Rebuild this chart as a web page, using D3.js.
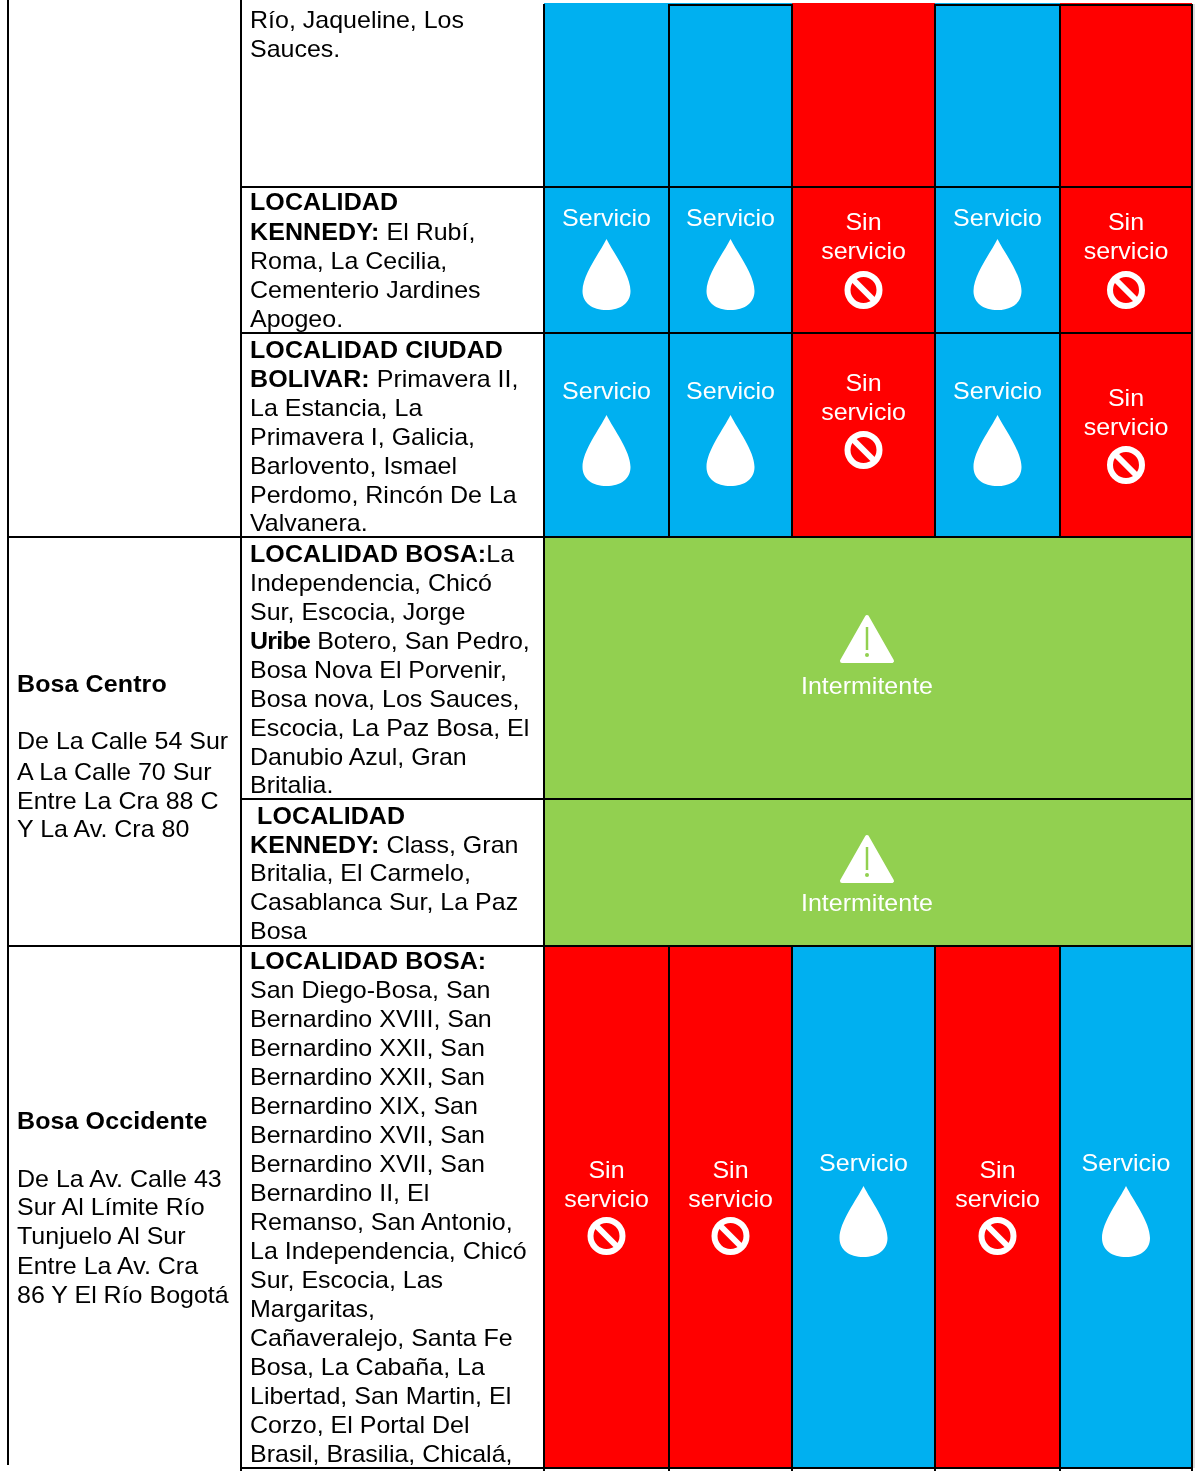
<!DOCTYPE html>
<html>
<head>
<meta charset="utf-8">
<script src="https://cdn.jsdelivr.net/npm/d3@7"></script>
<style>
  html, body { margin: 0; padding: 0; background: #fff; }
  svg { display: block; filter: blur(0.5px); }
  text { font-family: "Liberation Sans", Arial, sans-serif; white-space: pre; }
  tspan.bold, text.bold { font-weight: bold; letter-spacing: 0.1px; }
  tspan.tight { letter-spacing: -0.7px; }
</style>
</head>
<body>
<div id="container"></div>
<script>
// status codes per day: S = servicio, N = sin servicio, I = intermitente (whole row)
const rowStatus = [
  ["S", "S", "N", "S", "N"],
  ["S", "S", "N", "S", "N"],
  ["S", "S", "N", "S", "N"],
  ["I"],
  ["I"],
  ["N", "N", "S", "N", "S"],
];

// "**" marks the bold part of a line
const rowText = [
  ["Río, Jaqueline, Los", "Sauces."],
  ["**LOCALIDAD", "**KENNEDY:** El Rubí,", "Roma, La Cecilia,", "Cementerio Jardines", "Apogeo."],
  ["**LOCALIDAD CIUDAD", "**BOLIVAR:** Primavera II,", "La Estancia, La", "Primavera I, Galicia,", "Barlovento, Ismael", "Perdomo, Rincón De La", "Valvanera."],
  ["**LOCALIDAD BOSA:**La", "Independencia, Chicó", "Sur, Escocia, Jorge", "**Uribe** Botero, San Pedro,", "Bosa Nova El Porvenir,", "Bosa nova, Los Sauces,", "Escocia, La Paz Bosa, El", "Danubio Azul, Gran", "Britalia."],
  ["** LOCALIDAD", "**KENNEDY:** Class, Gran", "Britalia, El Carmelo,", "Casablanca Sur, La Paz", "Bosa"],
  ["**LOCALIDAD BOSA:", "San Diego-Bosa, San", "Bernardino XVIII, San", "Bernardino XXII, San", "Bernardino XXII, San", "Bernardino XIX, San", "Bernardino XVII, San", "Bernardino XVII, San", "Bernardino II, El", "Remanso, San Antonio,", "La Independencia, Chicó", "Sur, Escocia, Las", "Margaritas,", "Cañaveralejo, Santa Fe", "Bosa, La Cabaña, La", "Libertad, San Martin, El", "Corzo, El Portal Del", "Brasil, Brasilia, Chicalá,"],
];

const zoneText = [
  { name: "Bosa Centro", lines: ["De La Calle 54 Sur", "A La Calle 70 Sur", "Entre La Cra 88 C", "Y La Av. Cra 80"] },
  { name: "Bosa Occidente", lines: ["De La Av. Calle 43", "Sur Al Límite Río", "Tunjuelo Al Sur", "Entre La Av. Cra", "86 Y El Río Bogotá"] },
];

const labelServicio = ["Servicio"];
const labelSinServicio = ["Sin", "servicio"];
const labelIntermitente = ["Intermitente"];

// layout of the table
const width = 1200, height = 1473;
const colEdges = [8, 241, 544, 669, 792, 935, 1060, 1192];
const rowEdges = [3, 187, 333, 537, 799, 946, 1468];
const firstLine = [20, 202, 350, 554, 816, 961];
const lineStep = [29, 29.25, 28.85, 28.9, 28.6, 29];
const labelStep = 29;
const fontSize = 23.6;
const stretch = 1.06; // the scanned text runs wider than the installed Arial metric
// vertical anchors of the cell contents, by row
const servicioLabelY = [null, 218, 391, null, null, 1163];
const dropTop = [null, 239, 415, null, null, 1186];
const sinLabelY = [null, 222, { 2: 383, 4: 398 }, null, null, 1170];
const sinIconY = [null, 290, { 2: 450, 4: 465 }, null, null, 1236];
const warnTop = [null, null, null, 615, 835, null];
const warnLabelY = [null, null, null, 686, 903, null];
const zoneY = [
  { name: 684, lines: [741, 772, 801, 829] },
  { name: 1121, lines: [1179, 1207, 1236, 1266, 1295] },
];

const colors = { S: "#00B0F0", N: "#FF0000", I: "#92D050" };

const svg = d3.select("#container").append("svg")
  .attr("width", width)
  .attr("height", height);

const rowY = d3.scaleOrdinal().domain(d3.range(rowEdges.length)).range(rowEdges);
const colX = d3.scaleOrdinal().domain(d3.range(colEdges.length)).range(colEdges);

function place(x, y) {
  return `translate(${x},${y}) scale(${stretch},1)`;
}

function addRuns(sel, line) {
  const parts = line.split("**");
  parts.forEach((p, i) => {
    if (p === "") return;
    sel.append("tspan")
      .attr("class", i % 2 === 1 ? (p === "Uribe" ? "bold tight" : "bold") : null)
      .text(p);
  });
}

// status cells
const cells = [];
rowStatus.forEach((row, r) => {
  row.forEach((st, c) => {
    const x0 = colX(c + 2);
    const x1 = row.length === 1 ? colX(7) : colX(c + 3);
    cells.push({ r, c, st, x0, x1 });
  });
});

svg.append("g").selectAll("rect")
  .data(cells)
  .enter()
  .append("rect")
  .attr("x", (d) => d.x0)
  .attr("y", (d) => rowY(d.r))
  .attr("width", (d) => d.x1 - d.x0)
  .attr("height", (d) => rowY(d.r + 1) - rowY(d.r))
  .attr("fill", (d) => colors[d.st]);

function drawLabel(g, lines, cx, y) {
  g.selectAll(null)
    .data(lines)
    .enter()
    .append("text")
    .attr("transform", (d, i) => place(cx, y + i * labelStep))
    .attr("dy", "0.35em")
    .attr("text-anchor", "middle")
    .attr("font-size", fontSize)
    .attr("fill", "#fff")
    .text((d) => d);
}

const drop = "M0,0 C7,14 24,36 24,52 C24,64 14,71 0,71 C-14,71 -24,64 -24,52 C-24,36 -7,14 0,0 Z";

function pick(v, c) {
  return typeof v === "object" ? v[c] : v;
}

const icons = svg.append("g");
cells.forEach((d) => {
  if (d.r === 0) return; // the top row is the tail of a cell cut by the page
  const cx = (d.x0 + d.x1) / 2;
  const g = icons.append("g");
  if (d.st === "S") {
    drawLabel(g, labelServicio, cx, servicioLabelY[d.r]);
    g.append("path")
      .attr("d", drop)
      .attr("transform", `translate(${cx},${dropTop[d.r]})`)
      .attr("fill", "#fff");
  } else if (d.st === "N") {
    drawLabel(g, labelSinServicio, cx, pick(sinLabelY[d.r], d.c));
    const ic = g.append("g").attr("transform", `translate(${cx},${pick(sinIconY[d.r], d.c)})`);
    ic.append("circle").attr("r", 16).attr("fill", "none").attr("stroke", "#fff").attr("stroke-width", 6);
    ic.append("line")
      .attr("x1", -11).attr("y1", -11).attr("x2", 11).attr("y2", 11)
      .attr("stroke", "#fff").attr("stroke-width", 6);
  } else {
    const mid = 867;
    const ic = g.append("g").attr("transform", `translate(${mid},${warnTop[d.r]})`);
    ic.append("path")
      .attr("d", "M0,2 L25,46 L-25,46 Z")
      .attr("fill", "#fff")
      .attr("stroke", "#fff")
      .attr("stroke-width", 4)
      .attr("stroke-linejoin", "round");
    ic.append("line")
      .attr("x1", 0).attr("y1", 12).attr("x2", 0).attr("y2", 35)
      .attr("stroke", colors.I).attr("stroke-width", 2.5);
    ic.append("circle").attr("cy", 40).attr("r", 2).attr("fill", colors.I);
    drawLabel(g, labelIntermitente, mid, warnLabelY[d.r]);
  }
});

// locality text
const textG = svg.append("g").attr("font-size", fontSize).attr("fill", "#000");
rowText.forEach((lines, r) => {
  lines.forEach((line, i) => {
    const t = textG.append("text")
      .attr("transform", place(colX(1) + 9, firstLine[r] + i * lineStep[r]))
      .attr("dy", "0.35em");
    addRuns(t, line);
  });
});

// zone column
zoneText.forEach((z, k) => {
  textG.append("text")
    .attr("class", "bold")
    .attr("transform", place(colX(0) + 9, zoneY[k].name))
    .attr("dy", "0.35em")
    .text(z.name);
  z.lines.forEach((line, i) => {
    textG.append("text")
      .attr("transform", place(colX(0) + 9, zoneY[k].lines[i]))
      .attr("dy", "0.35em")
      .text(line);
  });
});

// pale edge left of the page crop, right of the last column
svg.append("line")
  .attr("x1", colX(7) + 2).attr("x2", colX(7) + 2)
  .attr("y1", 4).attr("y2", 1468)
  .attr("stroke", "#d4d4d4")
  .attr("stroke-width", 1.5);

// grid lines
const grid = svg.append("g").attr("stroke", "#000").attr("stroke-width", 2);
const hLines = [
  [1, 187], [1, 333], [0, 537], [1, 799], [0, 946], [1, 1468],
];
grid.selectAll(".h")
  .data(hLines)
  .enter()
  .append("line")
  .attr("class", "h")
  .attr("x1", (d) => colX(d[0]))
  .attr("x2", colX(7))
  .attr("y1", (d) => d[1])
  .attr("y2", (d) => d[1]);

// the top edge only shows above some cells
grid.selectAll(".top")
  .data([[3, 4], [5, 7]])
  .enter()
  .append("line")
  .attr("class", "top")
  .attr("x1", (d) => colX(d[0]))
  .attr("x2", (d) => colX(d[1]))
  .attr("y1", 5)
  .attr("y2", 5);

// outer and text column lines run the full height, day lines skip the Intermitente rows
const vSegments = [
  [0, 0, 1465], [1, 0, 1471], [2, 4, 1471], [7, 4, 1471],
  [3, 4, 537], [4, 4, 537], [5, 4, 537], [6, 4, 537],
  [3, 946, 1471], [4, 946, 1471], [5, 946, 1471], [6, 946, 1471],
];
grid.selectAll(".v")
  .data(vSegments)
  .enter()
  .append("line")
  .attr("class", "v")
  .attr("x1", (d) => colX(d[0]))
  .attr("x2", (d) => colX(d[0]))
  .attr("y1", (d) => d[1])
  .attr("y2", (d) => d[2]);
</script>
</body>
</html>
